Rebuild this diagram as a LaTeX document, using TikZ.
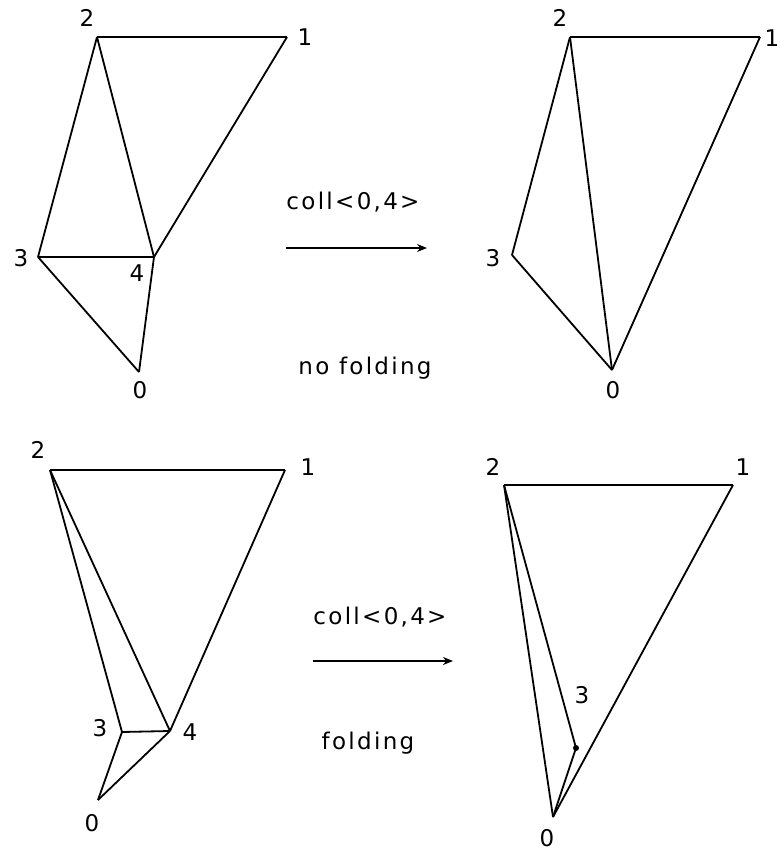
\documentclass[tikz,border=0pt]{standalone}
\usepackage{fontspec}
\setmainfont{DejaVu Sans}[LetterSpace=10]
\usetikzlibrary{arrows.meta}

\begin{document}
\begin{tikzpicture}[x=1pt,y=-1pt,>={Stealth[length=10pt,width=8pt]},
    every node/.style={font=\fontsize{23}{26}\selectfont,inner sep=0pt},
    edge/.style={line width=1.8pt}]

\useasboundingbox (0,0) rectangle (781,851);

% Top left: before the collapse
\coordinate (a0) at (139,372);
\coordinate (a1) at (287,37);
\coordinate (a2) at (97,37);
\coordinate (a3) at (38,257);
\coordinate (a4) at (154,257);

\foreach \p/\q in {a2/a1,a2/a3,a2/a4,a1/a4,a3/a4,a3/a0,a4/a0}{
    \draw[edge] (\p) -- (\q);
}

\node (la0) at (140,390) {0};
\node (la1) at (305,37) {1};
\node (la2) at (87,18) {2};
\node (la3) at (21,258) {3};
\node (la4) at (137,273) {4};

% Top right: no folding
\coordinate (b0) at (612,370);
\coordinate (b1) at (760,37);
\coordinate (b2) at (570,37);
\coordinate (b3) at (512,255);

\foreach \p/\q in {b2/b1,b2/b3,b2/b0,b1/b0,b3/b0}{
    \draw[edge] (\p) -- (\q);
}

\node (lb0) at (613,390) {0};
\node (lb1) at (772,38) {1};
\node (lb2) at (560,18) {2};
\node (lb3) at (493,258) {3};

% Top arrow
\coordinate (ta) at (286,248);
\coordinate (tb) at (427,248);
\draw[edge,->] (ta) -- (tb);
\node (topop) at (353,202) {coll<0,4>};
\node (topnote) at (365,368) {no folding};

% Bottom left: before the collapse
\coordinate (c0) at (98,800);
\coordinate (c1) at (285,470);
\coordinate (c2) at (50,470);
\coordinate (c3) at (122,732);
\coordinate (c4) at (170,731);

\foreach \p/\q in {c2/c1,c2/c3,c2/c4,c1/c4,c3/c4,c3/c0,c4/c0}{
    \draw[edge] (\p) -- (\q);
}

\node (lc0) at (92,823) {0};
\node (lc1) at (308,467) {1};
\node (lc2) at (38,450) {2};
\node (lc3) at (100,728) {3};
\node (lc4) at (190,732) {4};

% Bottom right: folding
\coordinate (d0) at (553,817);
\coordinate (d1) at (733,485);
\coordinate (d2) at (504,485);
\coordinate (d3) at (576,748);

\foreach \p/\q in {d2/d1,d2/d0,d2/d3,d1/d0,d3/d0}{
    \draw[edge] (\p) -- (\q);
}
\fill (d3) circle (3);

\node (ld0) at (547,838) {0};
\node (ld1) at (743,467) {1};
\node (ld2) at (493,467) {2};
\node (ld3) at (582,695) {3};

% Bottom arrow
\coordinate (ba) at (313,661);
\coordinate (bb) at (453,661);
\draw[edge,->] (ba) -- (bb);
\node (botop) at (380,617) {coll<0,4>};
\node (botnote) at (368,743) {folding};

\end{tikzpicture}
\end{document}
